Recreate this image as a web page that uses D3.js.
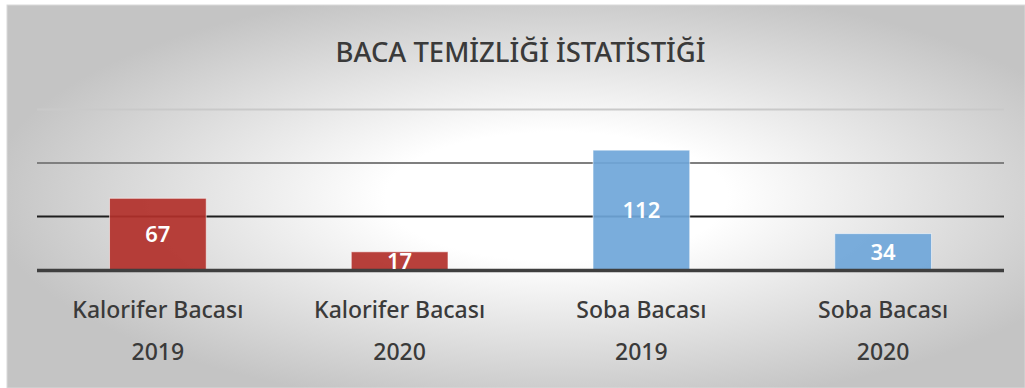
<!DOCTYPE html>
<html>
<head>
<meta charset="utf-8">
<script src="https://cdn.jsdelivr.net/npm/d3@7"></script>
<style>
  html, body { margin: 0; padding: 0; background: #ffffff; }
  svg { display: block; }
  text { font-family: "Noto Sans", "Open Sans", sans-serif; }
</style>
</head>
<body>
<svg id="chart" width="1025" height="388"></svg>
<script>
// Chimney-cleaning counts per chimney type and year
const title = "BACA TEMİZLİĞİ İSTATİSTİĞİ";
const categories = ["Kalorifer Bacası|2019", "Kalorifer Bacası|2020", "Soba Bacası|2019", "Soba Bacası|2020"];
const values = [67, 17, 112, 34];
const barColors = ["#b2302a", "#b2302a", "#6fa6d9", "#6fa6d9"];
const gridTicks = [50, 100, 150];
const gridColors = ["#1e1e1e", "#7f7f7f", "#c9c9c9"];

const width = 1025, height = 388;
const svg = d3.select("#chart");

// Panel with radial fill
const defs = svg.append("defs");
const grad = defs.append("radialGradient")
  .attr("id", "bg")
  .attr("cx", 0.54).attr("cy", 0.5).attr("r", 0.56)
  .attr("fx", 0.54).attr("fy", 0.5);
grad.append("stop").attr("offset", 0).attr("stop-color", "#ffffff");
grad.append("stop").attr("offset", 0.3).attr("stop-color", "#ffffff");
grad.append("stop").attr("offset", 1).attr("stop-color", "#c4c4c4");

svg.append("rect")
  .attr("x", 7).attr("y", 5)
  .attr("width", width - 7).attr("height", height - 5)
  .attr("fill", "url(#bg)")
  .attr("stroke", "#d9d9d9").attr("stroke-width", 1);

const plot = { left: 37, right: 1004, top: 109.5, bottom: 270 };

const x = d3.scaleBand()
  .domain(categories)
  .range([plot.left, plot.right])
  .paddingInner(0.6)
  .paddingOuter(0.3);

const y = d3.scaleLinear()
  .domain([0, 150])
  .range([plot.bottom, plot.top]);

// Title
svg.append("text")
  .attr("x", (plot.left + plot.right) / 2)
  .attr("y", 62)
  .attr("text-anchor", "middle")
  .attr("fill", "#3a3a3a")
  .attr("font-size", 27)
  .attr("font-weight", 500)
  .attr("textLength", 370)
  .attr("lengthAdjust", "spacingAndGlyphs")
  .text(title);

// Horizontal gridlines
svg.append("g")
  .selectAll("line")
  .data(gridTicks)
  .join("line")
  .attr("x1", plot.left).attr("x2", plot.right)
  .attr("y1", d => y(d)).attr("y2", d => y(d))
  .attr("stroke", (d, i) => gridColors[i])
  .attr("stroke-width", 2);

// Bars
svg.append("g")
  .selectAll("rect")
  .data(values)
  .join("rect")
  .attr("x", (d, i) => x(categories[i]))
  .attr("width", x.bandwidth())
  .attr("y", d => y(d))
  .attr("height", d => y(0) - y(d))
  .attr("fill", (d, i) => barColors[i])
  .attr("fill-opacity", 0.92)
  .attr("stroke", "#ffffff")
  .attr("stroke-opacity", 0.55)
  .attr("stroke-width", 1);

// Baseline
svg.append("line")
  .attr("x1", plot.left).attr("x2", plot.right)
  .attr("y1", y(0) + 0.5).attr("y2", y(0) + 0.5)
  .attr("stroke", "#3f3f3f")
  .attr("stroke-width", 3.5);

// Value labels, centred in each bar
svg.append("g")
  .selectAll("text")
  .data(values)
  .join("text")
  .attr("x", (d, i) => x(categories[i]) + x.bandwidth() / 2)
  .attr("y", d => (y(d) + y(0)) / 2)
  .attr("dy", "0.36em")
  .attr("text-anchor", "middle")
  .attr("fill", "#ffffff")
  .attr("font-size", 22)
  .attr("font-weight", 600)
  .text(d => d);

// Category axis labels (two lines)
const xAxis = svg.append("g")
  .selectAll("text")
  .data(categories)
  .join("text")
  .attr("x", d => x(d) + x.bandwidth() / 2)
  .attr("text-anchor", "middle")
  .attr("fill", "#3a3a3a")
  .attr("font-weight", 500)
  .attr("font-size", 23);

xAxis.append("tspan")
  .attr("x", d => x(d) + x.bandwidth() / 2)
  .attr("y", 318)
  .text(d => d.split("|")[0]);

xAxis.append("tspan")
  .attr("x", d => x(d) + x.bandwidth() / 2)
  .attr("y", 360)
  .text(d => d.split("|")[1]);
</script>
</body>
</html>
